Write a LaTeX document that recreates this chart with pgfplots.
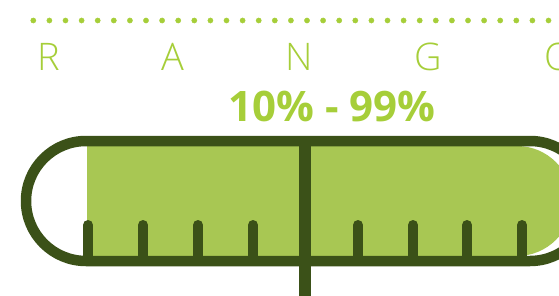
\documentclass[border=0pt]{standalone}
\usepackage{pgfplots}
\pgfplotsset{compat=1.18}
\usepackage{fontspec}
\setmainfont{Open Sans}
\newfontfamily\lightfont{Open Sans Light}
\definecolor{lightg}{HTML}{A6CE39}
\definecolor{fillg}{HTML}{A8C753}
\definecolor{darkg}{HTML}{3B5118}
\begin{document}
\begin{tikzpicture}
\begin{axis}[
  width=559bp, height=296bp, scale only axis,
  xmin=0, xmax=559, ymin=0, ymax=296, y dir=reverse,
  axis lines=none, ticks=none, clip=true,
]
% dotted line
\addplot[only marks, mark=*, mark size=2.6bp, color=lightg] coordinates {
(33.3,20.5)(49.4,20.5)(65.5,20.5)(81.6,20.5)(97.7,20.5)(113.8,20.5)(129.9,20.5)(146.0,20.5)(162.1,20.5)(178.2,20.5)
(194.3,20.5)(210.4,20.5)(226.5,20.5)(242.6,20.5)(258.7,20.5)(274.8,20.5)(290.9,20.5)(307.0,20.5)(323.1,20.5)(339.2,20.5)
(355.3,20.5)(371.4,20.5)(387.5,20.5)(403.6,20.5)(419.7,20.5)(435.8,20.5)(451.9,20.5)(468.0,20.5)(484.1,20.5)(500.2,20.5)
(516.3,20.5)(532.4,20.5)(548.5,20.5)};
% letters
\node[anchor=base, text=lightg, font=\lightfont\fontsize{38bp}{38bp}\selectfont] at (axis cs:49,70) {R};
\node[anchor=base, text=lightg, font=\lightfont\fontsize{38bp}{38bp}\selectfont] at (axis cs:173,70) {A};
\node[anchor=base, text=lightg, font=\lightfont\fontsize{38bp}{38bp}\selectfont] at (axis cs:299,70) {N};
\node[anchor=base, text=lightg, font=\lightfont\fontsize{38bp}{38bp}\selectfont] at (axis cs:428,70) {G};
\node[anchor=base, text=lightg, font=\lightfont\fontsize{38bp}{38bp}\selectfont] at (axis cs:559,70) {O};
% range label
\node[anchor=base, text=lightg, font=\bfseries\fontsize{42bp}{42bp}\selectfont] at (axis cs:332,121) {10\% - 99\%};
% green fill (range 10% - 99%)
\fill[fillg, rounded corners=55bp] (axis cs:30,146) rectangle (axis cs:572,256);
\fill[white] (axis cs:20,140) rectangle (axis cs:87,262);
% outline
\draw[darkg, line width=10.5bp, rounded corners=60bp] (axis cs:26,141) rectangle (axis cs:590,261);
% ticks
\addplot[darkg, line width=10bp, line cap=round] coordinates {(88,225)(88,258)};
\addplot[darkg, line width=10bp, line cap=round] coordinates {(143,225)(143,258)};
\addplot[darkg, line width=10bp, line cap=round] coordinates {(198,225)(198,258)};
\addplot[darkg, line width=10bp, line cap=round] coordinates {(253,225)(253,258)};
\addplot[darkg, line width=10bp, line cap=round] coordinates {(358,225)(358,258)};
\addplot[darkg, line width=10bp, line cap=round] coordinates {(413,225)(413,258)};
\addplot[darkg, line width=10bp, line cap=round] coordinates {(467,225)(467,258)};
\addplot[darkg, line width=10bp, line cap=round] coordinates {(522,225)(522,258)};
\addplot[darkg, line width=12bp] coordinates {(305,141)(305,300)};
\end{axis}
\pgfresetboundingbox
\path (0,0) rectangle (559bp,296bp);
\end{tikzpicture}
\end{document}
